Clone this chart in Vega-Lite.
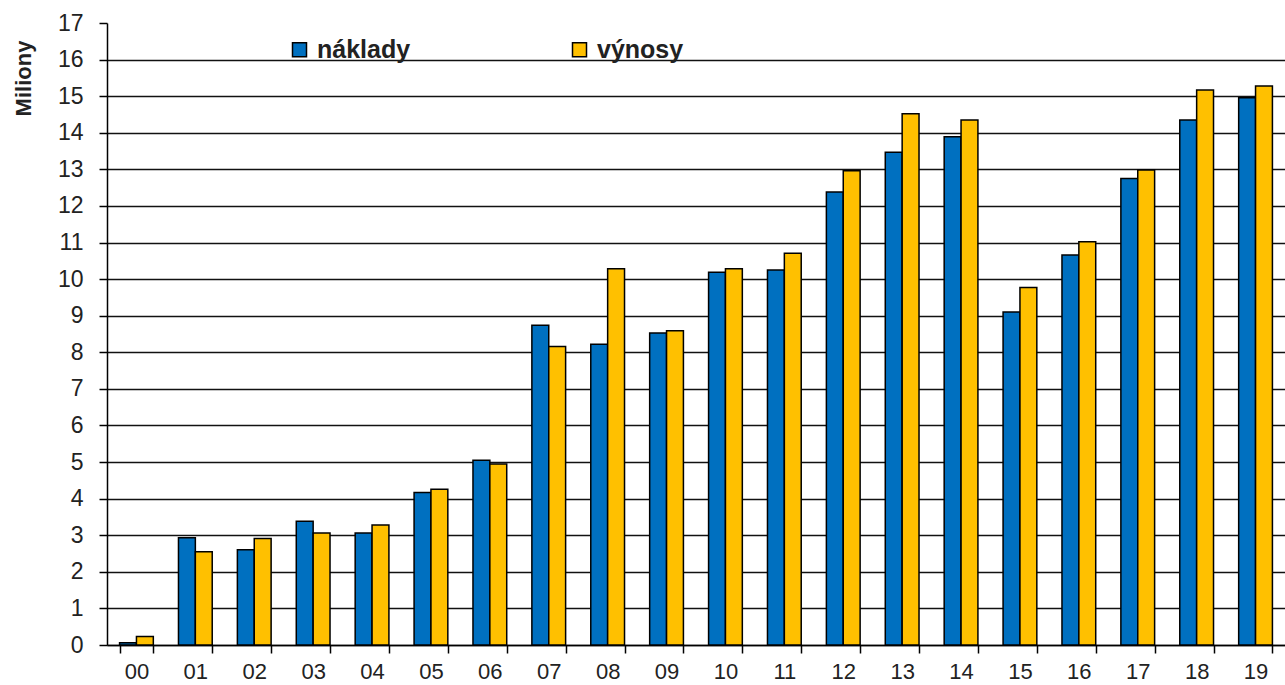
{
  "$schema": "https://vega.github.io/schema/vega-lite/v6.json",
  "width": 1178,
  "height": 622,
  "autosize": {"type": "none"},
  "padding": {"left": 107, "top": 23, "right": 0, "bottom": 40},
  "background": "white",
  "data": {
    "values": [
      {"rok": "00", "typ": "náklady", "hodnota": 0.06}, {"rok": "00", "typ": "výnosy", "hodnota": 0.23},
      {"rok": "01", "typ": "náklady", "hodnota": 2.93}, {"rok": "01", "typ": "výnosy", "hodnota": 2.55},
      {"rok": "02", "typ": "náklady", "hodnota": 2.6}, {"rok": "02", "typ": "výnosy", "hodnota": 2.91},
      {"rok": "03", "typ": "náklady", "hodnota": 3.38}, {"rok": "03", "typ": "výnosy", "hodnota": 3.06},
      {"rok": "04", "typ": "náklady", "hodnota": 3.06}, {"rok": "04", "typ": "výnosy", "hodnota": 3.28},
      {"rok": "05", "typ": "náklady", "hodnota": 4.17}, {"rok": "05", "typ": "výnosy", "hodnota": 4.26},
      {"rok": "06", "typ": "náklady", "hodnota": 5.05}, {"rok": "06", "typ": "výnosy", "hodnota": 4.95},
      {"rok": "07", "typ": "náklady", "hodnota": 8.74}, {"rok": "07", "typ": "výnosy", "hodnota": 8.16},
      {"rok": "08", "typ": "náklady", "hodnota": 8.22}, {"rok": "08", "typ": "výnosy", "hodnota": 10.28},
      {"rok": "09", "typ": "náklady", "hodnota": 8.53}, {"rok": "09", "typ": "výnosy", "hodnota": 8.59},
      {"rok": "10", "typ": "náklady", "hodnota": 10.19}, {"rok": "10", "typ": "výnosy", "hodnota": 10.28},
      {"rok": "11", "typ": "náklady", "hodnota": 10.25}, {"rok": "11", "typ": "výnosy", "hodnota": 10.71},
      {"rok": "12", "typ": "náklady", "hodnota": 12.38}, {"rok": "12", "typ": "výnosy", "hodnota": 12.96},
      {"rok": "13", "typ": "náklady", "hodnota": 13.47}, {"rok": "13", "typ": "výnosy", "hodnota": 14.52},
      {"rok": "14", "typ": "náklady", "hodnota": 13.89}, {"rok": "14", "typ": "výnosy", "hodnota": 14.35},
      {"rok": "15", "typ": "náklady", "hodnota": 9.1}, {"rok": "15", "typ": "výnosy", "hodnota": 9.77},
      {"rok": "16", "typ": "náklady", "hodnota": 10.66}, {"rok": "16", "typ": "výnosy", "hodnota": 11.02},
      {"rok": "17", "typ": "náklady", "hodnota": 12.75}, {"rok": "17", "typ": "výnosy", "hodnota": 12.98},
      {"rok": "18", "typ": "náklady", "hodnota": 14.35}, {"rok": "18", "typ": "výnosy", "hodnota": 15.17},
      {"rok": "19", "typ": "náklady", "hodnota": 14.96}, {"rok": "19", "typ": "výnosy", "hodnota": 15.28}
    ]
  },
  "mark": {"type": "bar", "stroke": "#000000", "strokeWidth": 1.5},
  "encoding": {
    "x": {
      "field": "rok",
      "type": "nominal",
      "sort": null,
      "scale": {"paddingInner": 0.427, "paddingOuter": 0.2135},
      "axis": {
        "title": null,
        "labelAngle": 0,
        "labelFont": "Liberation Sans",
        "labelFontSize": 22,
        "labelColor": "#222222",
        "labelPadding": 8,
        "tickBand": "extent",
        "tickSize": 8,
        "tickColor": "#000000",
        "tickWidth": 1.5,
        "domainColor": "#000000",
        "domainWidth": 1.5,
        "grid": false
      }
    },
    "xOffset": {"field": "typ", "type": "nominal", "scale": {"paddingInner": 0, "paddingOuter": 0}},
    "y": {
      "field": "hodnota",
      "type": "quantitative",
      "scale": {"domain": [0, 17], "nice": false},
      "axis": {
        "title": "Miliony",
        "titleFont": "Liberation Sans",
        "titleFontSize": 22,
        "titleFontWeight": "bold",
        "titleColor": "#222222",
        "titleAngle": 270,
        "titleAlign": "center",
        "titleBaseline": "middle",
        "titleX": -84,
        "titleY": 55,
        "values": [0, 1, 2, 3, 4, 5, 6, 7, 8, 9, 10, 11, 12, 13, 14, 15, 16, 17],
        "labelFont": "Liberation Sans",
        "labelFontSize": 23,
        "labelColor": "#222222",
        "labelPadding": 16,
        "tickSize": 8,
        "tickColor": "#000000",
        "tickWidth": 1.5,
        "domainColor": "#000000",
        "domainWidth": 1.5,
        "grid": true,
        "gridColor": "#111111",
        "gridWidth": 1.5,
        "gridOpacity": {"condition": {"test": "datum.value === 17", "value": 0}, "value": 1}
      }
    },
    "color": {
      "field": "typ",
      "type": "nominal",
      "scale": {"domain": ["náklady", "výnosy"], "range": ["#0070C0", "#FFC000"]},
      "legend": {
        "title": null,
        "orient": "none",
        "legendX": 180,
        "legendY": 14,
        "direction": "horizontal",
        "padding": 0,
        "symbolType": "square",
        "symbolSize": 196,
        "symbolStrokeColor": "#000000",
        "symbolStrokeWidth": 1.5,
        "symbolOpacity": 1,
        "labelFont": "Liberation Sans",
        "labelFontSize": 25,
        "labelFontWeight": "bold",
        "labelColor": "#222222",
        "labelOffset": 5,
        "columnPadding": 156
      }
    }
  },
  "config": {"view": {"stroke": null}}
}
